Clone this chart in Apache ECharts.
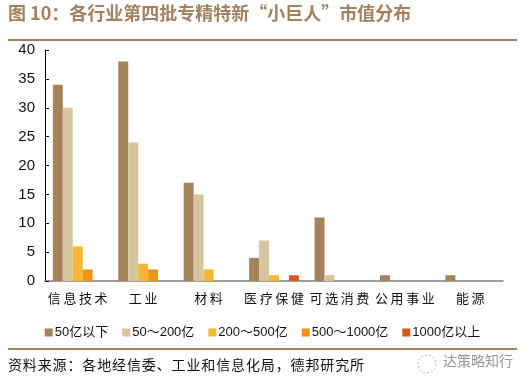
<!DOCTYPE html>
<html>
<head>
<meta charset="utf-8">
<script src="https://cdn.jsdelivr.net/npm/echarts@6/dist/echarts.min.js"></script>
<style>html,body{margin:0;padding:0;background:#fff;}#c{width:525px;height:388px;}</style>
</head>
<body>
<div id="c"></div>
<script>
var categories = ['信息技术', '工业', '材料', '医疗保健', '可选消费', '公用事业', '能源'];
var seriesNames = ['50亿以下', '50～200亿', '200～500亿', '500～1000亿', '1000亿以上'];
var s50below = [34, 38, 17, 4, 11, 1, 1];
var s50to200 = [30, 24, 15, 7, 1, 0, 0];
var s200to500 = [6, 3, 2, 1, 0, 0, 0];
var s500to1000 = [2, 2, 0, 0, 0, 0, 0];
var s1000above = [0, 0, 0, 1, 0, 0, 0];
var yTicks = [0, 5, 10, 15, 20, 25, 30, 35, 40];

var colors = ['#A6825B', '#D6C59E', '#F5B834', '#F39313', '#D9561C'];
var allData = [s50below, s50to200, s200to500, s500to1000, s1000above];

var chart = echarts.init(document.getElementById('c'), null, {renderer: 'canvas'});
var cjk = '"Noto Sans CJK SC", sans-serif';
function spaced(t, sp) { return t.split('').join(sp); }
var series = seriesNames.map(function (n, i) {
  return {
    name: n, type: 'bar', data: allData[i], barGap: '0%', barCategoryGap: '24%',
    itemStyle: {color: colors[i]}
  };
});
chart.setOption({
  animation: false,
  backgroundColor: '#fff',
  color: colors,
  grid: {left: 45, right: 22, top: 50, bottom: 107, containLabel: false},
  legend: {
    data: seriesNames, top: 321, left: 'center', itemWidth: 8, itemHeight: 8,
    itemGap: 14, icon: 'rect',
    textStyle: {fontFamily: 'Arial, "Noto Sans CJK SC", sans-serif', fontSize: 13, color: '#111', padding: [0, 0, 0, -3]}
  },
  xAxis: {
    type: 'category', data: categories,
    axisLine: {lineStyle: {color: '#7f7f7f', width: 1.5}},
    axisTick: {inside: true, length: 4, lineStyle: {color: '#000'}},
    axisLabel: {interval: 0, fontFamily: cjk, fontSize: 13, color: '#111', margin: 11,
      formatter: function (v) { return spaced(v, '\u2009'); }}
  },
  yAxis: {
    type: 'value', min: 0, max: 40, interval: 5,
    splitLine: {show: false},
    axisLine: {show: true, lineStyle: {color: '#000', width: 1}},
    axisTick: {show: true, inside: true, length: 4, lineStyle: {color: '#000'}},
    axisLabel: {fontFamily: 'Arial, "Liberation Sans", sans-serif', fontSize: 15, color: '#111', margin: 10,
      formatter: function (v) { return yTicks.indexOf(v) >= 0 ? String(v) : ''; }}
  },
  series: series,
  graphic: [
    {type: 'text', left: 8, top: 4, style: {text: '图 10：各行业第四批专精特新“小巨人”市值分布', fill: '#A5805F', font: 'bold 18px "Noto Sans CJK SC", sans-serif'}},
    {type: 'rect', shape: {x: 8, y: 39, width: 509, height: 2}, style: {fill: '#A5805F'}},
    {type: 'rect', shape: {x: 8, y: 348, width: 509, height: 2}, style: {fill: '#A5805F'}},
    {type: 'text', left: 8, top: 358, style: {text: spaced('资料来源：各地经信委、工业和信息化局，德邦研究所', '\u200a'), fill: '#111', font: '14px "Noto Sans CJK SC", sans-serif'}},
    {type: 'circle', shape: {cx: 427, cy: 364, r: 9}, style: {fill: 'none', stroke: '#bbb', lineWidth: 1, lineDash: [2, 2]}},
    {type: 'text', left: 443, top: 354, style: {text: '达策略知行', fill: '#999', font: '14px "Noto Sans CJK SC", sans-serif'}}
  ]
});
</script>
</body>
</html>
